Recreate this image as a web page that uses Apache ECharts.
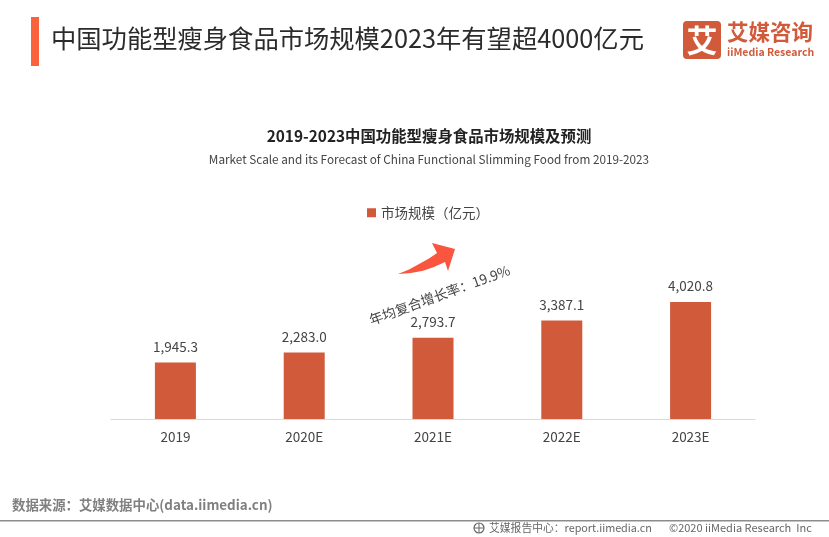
<!DOCTYPE html>
<html>
<head>
<meta charset="utf-8">
<style>
html,body{margin:0;padding:0;background:#fff;}
#chart{width:829px;height:537px;}
</style>
<script src="https://cdn.jsdelivr.net/npm/echarts@6/dist/echarts.min.js"></script>
</head>
<body>
<div id="chart"></div>
<script>
const categories = ['2019', '2020E', '2021E', '2022E', '2023E'];
const marketScale = [1945.3, 2283.0, 2793.7, 3387.1, 4020.8];
const seriesName = '市场规模（亿元）';

const cjk = '"Noto Sans CJK SC", sans-serif';
const myChart = echarts.init(document.getElementById('chart'), null, {renderer: 'canvas'});

function text(x, y, str, size, color, extra) {
    return {
        type: 'text', x: x, y: y, silent: true,
        style: Object.assign({text: str, fontFamily: cjk, fontSize: size, fill: color, textVerticalAlign: 'middle'}, extra)
    };
}

let option = {
    animation: false,
    backgroundColor: '#fff',
    title: {
        text: '2019-2023中国功能型瘦身食品市场规模及预测',
        subtext: 'Market Scale and its Forecast of China Functional Slimming Food from 2019-2023',
        left: 424, top: 123, textAlign: 'center', itemGap: 10,
        textStyle: {fontFamily: cjk, fontSize: 15.4, fontWeight: 'bold', color: '#222'},
        subtextStyle: {fontFamily: cjk, fontSize: 11.75, color: '#444'}
    },
    legend: {
        data: [seriesName], left: 362, top: 201, itemWidth: 9, itemHeight: 9, itemGap: 5, icon: 'rect',
        textStyle: {fontFamily: cjk, fontSize: 13.5, color: '#444'}
    },
    grid: {left: 111, width: 644, top: 273.5, height: 145.5},
    xAxis: {
        type: 'category', data: categories,
        axisTick: {show: false},
        axisLine: {lineStyle: {color: '#d9d9d9', width: 1}},
        axisLabel: {fontFamily: cjk, fontSize: 13.5, color: '#444', margin: 11}
    },
    yAxis: {type: 'value', min: 0, max: 5000, show: false, splitLine: {show: false}},
    series: [{
        name: seriesName, type: 'bar', data: marketScale, barWidth: 41,
        itemStyle: {color: '#d05a3a'},
        label: {
            show: true, position: 'top', distance: 9, fontFamily: cjk, fontSize: 13.5, color: '#444',
            formatter: function (p) {
                return p.value.toLocaleString('en-US', {minimumFractionDigits: 1});
            }
        }
    }],
    graphic: [
        {type: 'rect', silent: true, shape: {x: 31, y: 17, width: 8, height: 49}, style: {fill: '#f9623b'}},
        text(51, 38, '中国功能型瘦身食品市场规模2023年有望超4000亿元', 25.3, '#2b2b2b'),
        // logo
        {type: 'rect', silent: true, shape: {x: 683, y: 21, width: 38, height: 38, r: 4}, style: {fill: '#d05a3a'}},
        text(702, 40, '艾', 31, '#fff', {textAlign: 'center', fontWeight: 'bold'}),
        text(727, 32, '艾媒咨询', 21.5, '#d05a3a', {fontWeight: 'bold'}),
        text(727, 52, 'iiMedia Research', 10.5, '#d05a3a', {fontWeight: 'bold'}),
        // trend arrow
        {
            type: 'polygon', silent: true,
            shape: {points: [[398, 274], [409, 269.5], [420, 263.5], [429, 258.5], [437, 253], [432, 243], [455, 249], [448, 271], [445, 262], [434, 267], [423, 270.8], [411, 273]]},
            style: {fill: '#f9553f'}
        },
        {
            type: 'text', silent: true, x: 439.5, y: 295, rotation: 20 * Math.PI / 180,
            style: {text: '年均复合增长率：19.9%', fontFamily: cjk, fontSize: 13.7, fill: '#444', textAlign: 'center', textVerticalAlign: 'middle'}
        },
        // footer
        text(12, 505, '数据来源：艾媒数据中心(data.iimedia.cn)', 13.4, '#808080', {fontWeight: 'bold'}),
        {type: 'rect', silent: true, shape: {x: 0, y: 520, width: 829, height: 1.5}, style: {fill: '#8c8c8c'}},
        {type: 'circle', silent: true, shape: {cx: 479, cy: 528, r: 5}, style: {fill: 'none', stroke: '#666', lineWidth: 1.2}},
        {type: 'line', silent: true, shape: {x1: 474, y1: 528, x2: 484, y2: 528}, style: {stroke: '#666', lineWidth: 1}},
        {type: 'line', silent: true, shape: {x1: 479, y1: 523, x2: 479, y2: 533}, style: {stroke: '#666', lineWidth: 1}},
        text(489, 528, '艾媒报告中心：report.iimedia.cn', 10.8, '#666'),
        text(669, 528, '©2020 iiMedia Research  Inc', 11, '#666')
    ]
};

myChart.setOption(option);
</script>
</body>
</html>
